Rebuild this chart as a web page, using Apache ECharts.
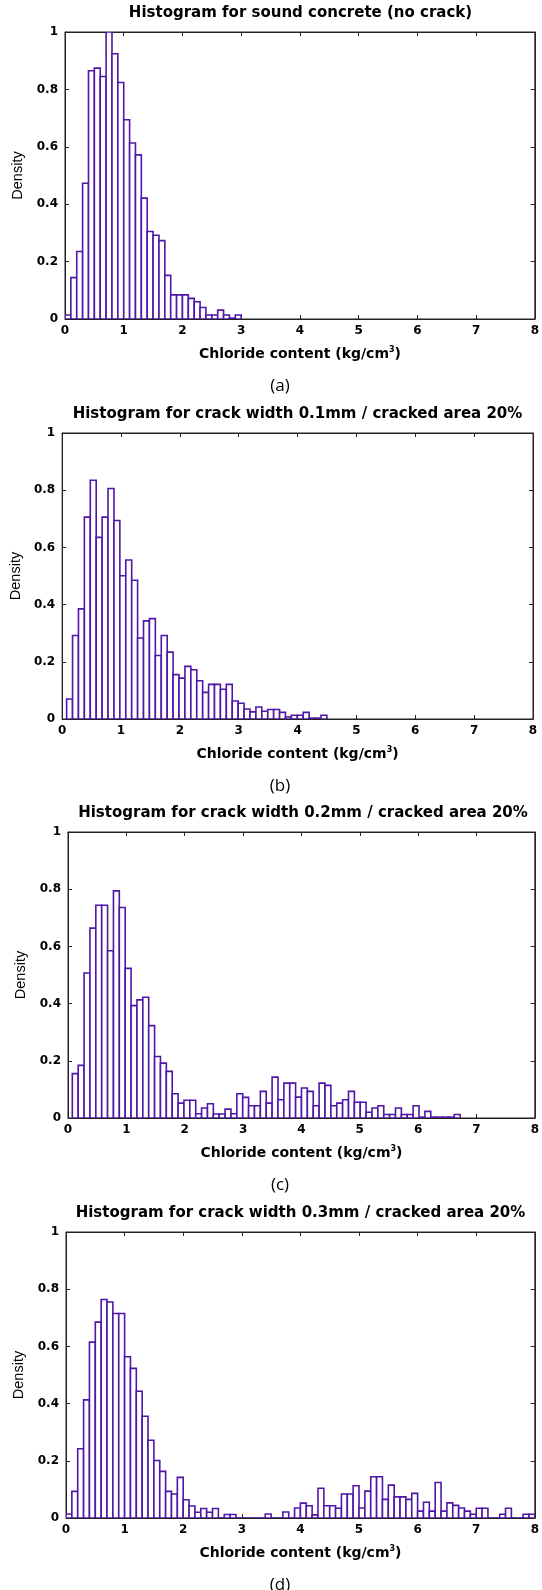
<!DOCTYPE html>
<html>
<head>
<meta charset="utf-8">
<title>Chloride content histograms</title>
<script src="https://cdn.jsdelivr.net/npm/echarts/dist/echarts.min.js"></script>
<style>
  html, body { margin: 0; padding: 0; background: #fff; }
  #chart { width: 542px; height: 1590px; }
</style>
</head>
<body>
<div id="chart"></div>
<script>
// x range / ticks shared by all four histograms
const xMin = 0, xMax = 8, xStep = 1;
const yMin = 0, yMax = 1, yStep = 0.2;

const titles = [
  'Histogram for sound concrete (no crack)',
  'Histogram for crack width 0.1mm / cracked area 20%',
  'Histogram for crack width 0.2mm / cracked area 20%',
  'Histogram for crack width 0.3mm / cracked area 20%',
];
const tags = ['(a)', '(b)', '(c)', '(d)'];

// (a) sound concrete
const binStartA = 0, binWidthA = 0.1;
const densityA = [0.014, 0.144, 0.235, 0.473, 0.865, 0.874, 0.845, 1.0, 0.924, 0.824,
  0.694, 0.613, 0.572, 0.421, 0.305, 0.292, 0.273, 0.152, 0.084, 0.084,
  0.084, 0.072, 0.06, 0.04, 0.014, 0.014, 0.031, 0.014, 0.003, 0.014];

// (b) 0.1mm
const binStartB = 0.076, binWidthB = 0.1005;
const densityB = [0.07, 0.292, 0.385, 0.706, 0.835, 0.635, 0.706, 0.806, 0.694, 0.501,
  0.556, 0.485, 0.283, 0.343, 0.351, 0.222, 0.292, 0.234, 0.155, 0.143,
  0.184, 0.172, 0.134, 0.093, 0.121, 0.121, 0.104, 0.121, 0.063, 0.055,
  0.035, 0.025, 0.042, 0.027, 0.033, 0.033, 0.023, 0.007, 0.013, 0.013,
  0.023, 0.003, 0.003, 0.013];

// (c) 0.2mm
const binStartC = 0.074, binWidthC = 0.1007;
const densityC = [0.155, 0.184, 0.507, 0.664, 0.744, 0.744, 0.585, 0.794, 0.736, 0.523,
  0.393, 0.413, 0.422, 0.323, 0.215, 0.192, 0.163, 0.085, 0.052, 0.062,
  0.062, 0.015, 0.035, 0.05, 0.014, 0.014, 0.031, 0.015, 0.085, 0.072,
  0.043, 0.043, 0.093, 0.052, 0.143, 0.064, 0.122, 0.122, 0.073, 0.105,
  0.093, 0.043, 0.122, 0.114, 0.043, 0.052, 0.064, 0.093, 0.055, 0.055,
  0.02, 0.035, 0.043, 0.012, 0.012, 0.035, 0.012, 0.012, 0.043, 0.003,
  0.023, 0.003, 0.003, 0.003, 0.003, 0.012];

// (d) 0.3mm
const binStartD = 0, binWidthD = 0.1;
const densityD = [0.014, 0.093, 0.242, 0.413, 0.615, 0.685, 0.764, 0.755, 0.715, 0.715,
  0.564, 0.523, 0.443, 0.356, 0.272, 0.201, 0.163, 0.093, 0.084, 0.142,
  0.064, 0.042, 0.02, 0.033, 0.02, 0.033, 0, 0.012, 0.012, 0,
  0, 0, 0, 0, 0.014, 0, 0, 0.021, 0, 0.035,
  0.052, 0.043, 0.011, 0.104, 0.043, 0.043, 0.034, 0.084, 0.084, 0.113,
  0.035, 0.094, 0.144, 0.144, 0.065, 0.115, 0.074, 0.074, 0.065, 0.086,
  0.024, 0.055, 0.024, 0.124, 0.024, 0.053, 0.044, 0.035, 0.024, 0.013,
  0.034, 0.034, 0, 0, 0.013, 0.034, 0, 0, 0.013, 0.013];

const hists = [
  { start: binStartA, width: binWidthA, values: densityA },
  { start: binStartB, width: binWidthB, values: densityB },
  { start: binStartC, width: binWidthC, values: densityC },
  { start: binStartD, width: binWidthD, values: densityD },
];

// plot boxes in px
const boxes = [
  { left: 65, top: 32, width: 471, height: 287 },
  { left: 62, top: 433, width: 471, height: 286 },
  { left: 68, top: 832, width: 470, height: 286 },
  { left: 66, top: 1232, width: 469, height: 286 },
];

const barColor = '#5016a8';
const axisColor = '#222';
const boldFont = 'DejaVu Sans, Verdana, sans-serif';
const plainFont = 'Liberation Sans, Arial, sans-serif';

function binsToData(h) {
  return h.values.map((v, i) => [h.start + i * h.width, h.start + (i + 1) * h.width, v]);
}

function renderBin(params, api) {
  const lo = api.coord([api.value(0), 0]);
  const hi = api.coord([api.value(1), api.value(2)]);
  return {
    type: 'rect',
    shape: { x: lo[0], y: hi[1], width: hi[0] - lo[0], height: lo[1] - hi[1] },
    style: { fill: '#fff', stroke: barColor, lineWidth: 1.6 },
  };
}

const grid = [], xAxis = [], yAxis = [], series = [], title = [];

boxes.forEach((b, i) => {
  grid.push({ left: b.left, top: b.top, width: b.width, height: b.height,
    show: true, borderColor: axisColor, borderWidth: 1, backgroundColor: '#fff' });

  const tick = { show: true, inside: true, length: 4, lineStyle: { color: axisColor } };
  xAxis.push({
    type: 'value', gridIndex: i, min: xMin, max: xMax, interval: xStep, position: 'bottom',
    axisLine: { show: true, onZero: false, lineStyle: { color: axisColor } },
    axisTick: tick, splitLine: { show: false },
    axisLabel: { color: '#000', fontFamily: boldFont, fontWeight: 'bold', fontSize: 12, margin: 6 },
    name: 'Chloride content (kg/cm{sup|3})', nameLocation: 'middle', nameGap: 27,
    nameTextStyle: {
      color: '#000', fontFamily: boldFont, fontWeight: 'bold', fontSize: 14,
      rich: { sup: { fontFamily: boldFont, fontWeight: 'bold', fontSize: 8, padding: [0, 0, 8, 0] } },
    },
  });
  xAxis.push({
    type: 'value', gridIndex: i, min: xMin, max: xMax, interval: xStep, position: 'top',
    axisLine: { show: true, onZero: false, lineStyle: { color: axisColor } },
    axisTick: tick, axisLabel: { show: false }, splitLine: { show: false },
  });
  yAxis.push({
    type: 'value', gridIndex: i, min: yMin, max: yMax, interval: yStep, position: 'left',
    axisLine: { show: true, onZero: false, lineStyle: { color: axisColor } },
    axisTick: tick, splitLine: { show: false },
    axisLabel: { color: '#000', fontFamily: boldFont, fontWeight: 'bold', fontSize: 12, margin: 7 },
    name: 'Density', nameLocation: 'middle', nameGap: 38,
    nameTextStyle: { color: '#000', fontFamily: plainFont, fontSize: 14.5 },
  });
  yAxis.push({
    type: 'value', gridIndex: i, min: yMin, max: yMax, interval: yStep, position: 'right',
    axisLine: { show: true, onZero: false, lineStyle: { color: axisColor } },
    axisTick: tick, axisLabel: { show: false }, splitLine: { show: false },
  });

  series.push({
    type: 'custom', xAxisIndex: 2 * i, yAxisIndex: 2 * i,
    renderItem: renderBin, clip: true, silent: true,
    encode: { x: [0, 1], y: 2 },
    data: binsToData(hists[i]),
  });

  title.push({
    text: titles[i], left: b.left + b.width / 2, top: b.top - 26, textAlign: 'center', padding: 0,
    textStyle: { color: '#000', fontFamily: boldFont, fontWeight: 'bold', fontSize: 15 },
  });
  title.push({
    text: tags[i], left: 280, top: b.top + b.height + 59, textAlign: 'center', padding: 0,
    textStyle: { color: '#000', fontFamily: 'Open Sans, sans-serif', fontWeight: 'normal', fontSize: 17 },
  });
});

const chart = echarts.init(document.getElementById('chart'), null, { renderer: 'canvas' });
chart.setOption({
  animation: false,
  backgroundColor: '#fff',
  title, grid, xAxis, yAxis, series,
});
</script>
</body>
</html>
